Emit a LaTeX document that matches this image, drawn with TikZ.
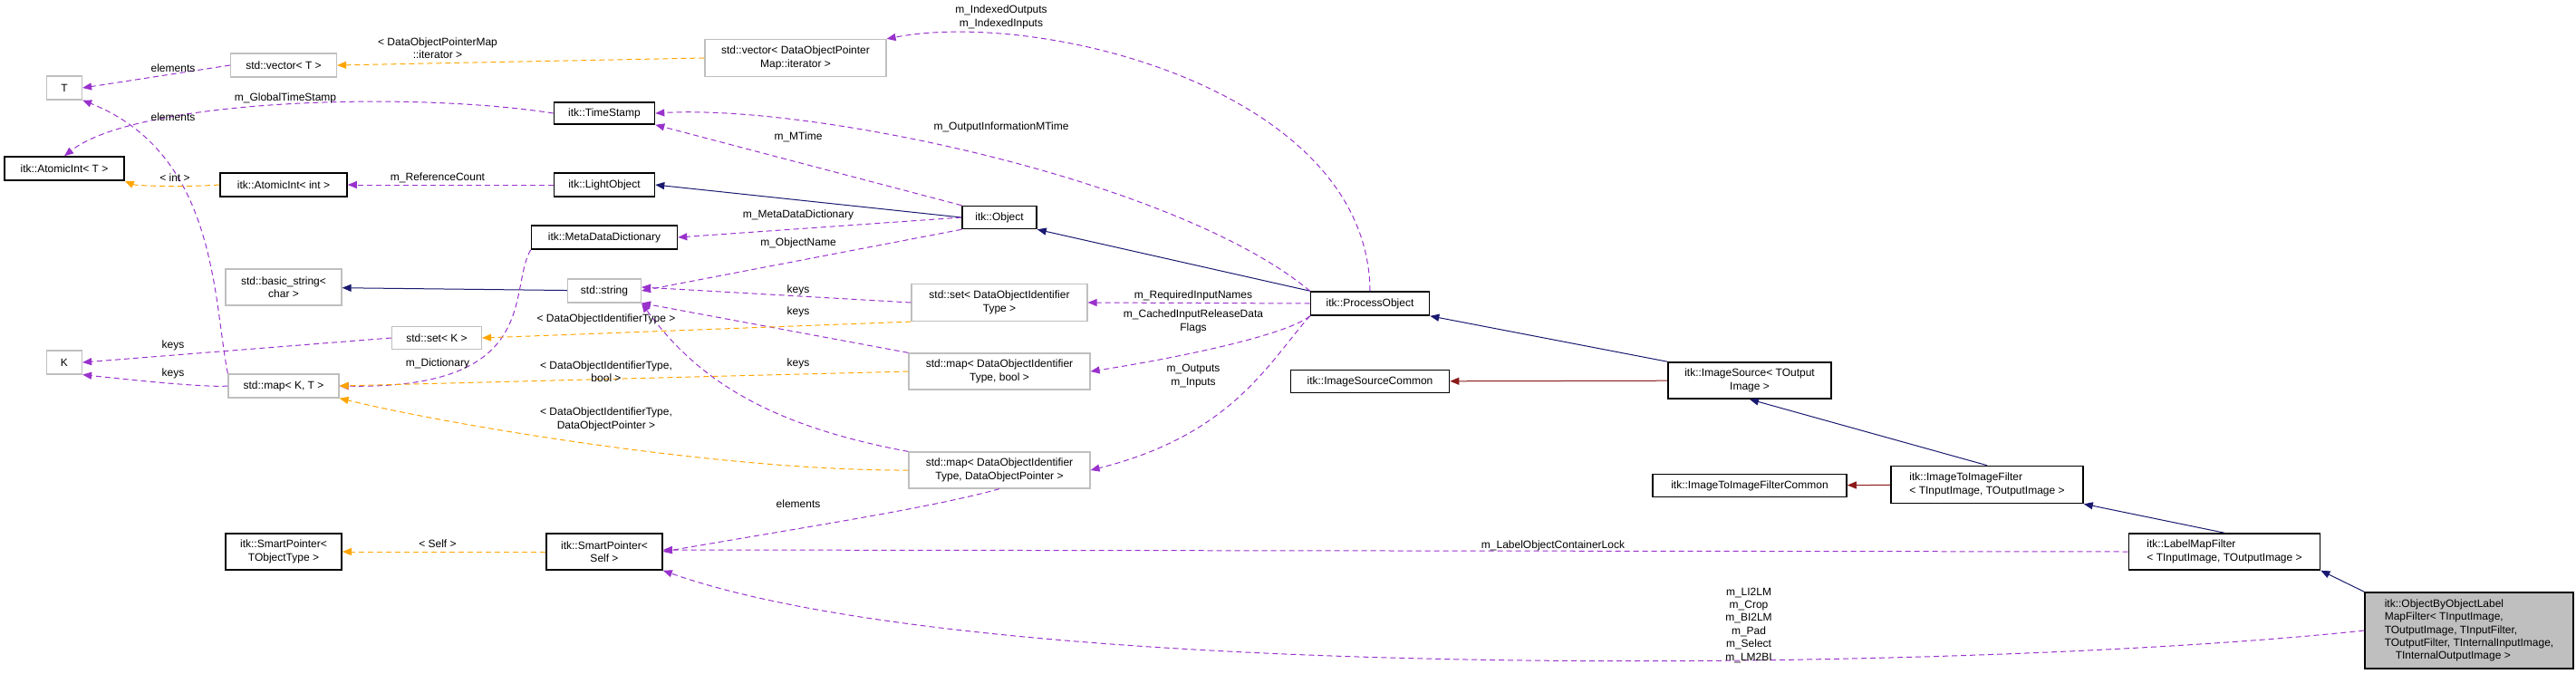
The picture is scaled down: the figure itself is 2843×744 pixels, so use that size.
\documentclass[tikz,border=0pt]{standalone}
\usepackage{fontspec}
\setmainfont{Liberation Sans}
\usetikzlibrary{arrows.meta}

\definecolor{inhcol}{RGB}{25,25,112}
\definecolor{pricol}{RGB}{139,26,26}
\definecolor{usecol}{RGB}{153,50,204}
\definecolor{tplcol}{RGB}{255,165,0}
\definecolor{undoccol}{RGB}{191,191,191}

\tikzset{every picture/.style={line width=0.5pt}}
\tikzset{
  cls/.style={draw=black, line width=0.8pt, fill=white, inner sep=1pt, align=center, font=\fontsize{6}{7.2}\selectfont},
  ucls/.style={cls, draw=undoccol, line width=0.6pt},
  lbl/.style={align=center, inner sep=0.5pt, font=\fontsize{6}{7.2}\selectfont},
  inh/.style={draw=inhcol, -{Triangle[length=5pt,width=4pt]}},
  pri/.style={draw=pricol, -{Triangle[length=5pt,width=4pt]}},
  use/.style={draw=usecol, dash pattern=on 3pt off 2pt, -{Triangle[length=5pt,width=4pt,fill=usecol]}},
  tpl/.style={draw=tplcol, dash pattern=on 3pt off 2pt, -{Triangle[length=5pt,width=4pt,fill=tplcol]}}
}

\begin{document}
\begin{tikzpicture}[x=0.5pt,y=0.5pt,yscale=-1,xscale=1]
  \useasboundingbox (0,0) rectangle (2843,744);

  % classes, left column
  \node [ucls, minimum width=19.5pt, minimum height=13pt] (tT) at (71,97) {T};
  \node [cls, minimum width=66pt, minimum height=13pt] (atomicT) at (71,186) {itk::AtomicInt\textless{} T \textgreater};
  \node [ucls, minimum width=19.5pt, minimum height=13pt] (tK) at (71,400) {K};

  % classes, second column
  \node [ucls, minimum width=58.5pt, minimum height=13pt] (vecT) at (313,72) {std::vector\textless{} T \textgreater};
  \node [cls, minimum width=70pt, minimum height=13pt] (atomicInt) at (313,204) {itk::AtomicInt\textless{} int \textgreater};
  \node [ucls, minimum width=64pt, minimum height=20pt] (basicStr) at (313,317) {std::basic\_string\textless\\char \textgreater};
  \node [ucls, minimum width=61pt, minimum height=13pt] (mapKT) at (313,426) {std::map\textless{} K, T \textgreater};
  \node [cls, minimum width=64pt, minimum height=20pt] (spObj) at (313,609) {itk::SmartPointer\textless\\TObjectType \textgreater};
  \node [ucls, minimum width=49.5pt, minimum height=12.5pt] (setK) at (482,373) {std::set\textless{} K \textgreater};

  % classes, third column
  \node [cls, minimum width=55.5pt, minimum height=12pt] (timeStamp) at (667,125) {itk::TimeStamp};
  \node [cls, minimum width=55.5pt, minimum height=13pt] (lightObj) at (667,204) {itk::LightObject};
  \node [cls, minimum width=80.5pt, minimum height=13pt] (metaDict) at (667,262) {itk::MetaDataDictionary};
  \node [ucls, minimum width=40.5pt, minimum height=13pt] (stdStr) at (667,321) {std::string};
  \node [cls, minimum width=64pt, minimum height=20pt] (spSelf) at (667,609) {itk::SmartPointer\textless\\Self \textgreater};

  % classes, fourth column
  \node [ucls, minimum width=100pt, minimum height=20.5pt] (vecIter) at (878,64) {std::vector\textless{} DataObjectPointer\\Map::iterator \textgreater};
  \node [cls, minimum width=41pt, minimum height=12.5pt] (itkObj) at (1103,240) {itk::Object};
  \node [ucls, minimum width=97pt, minimum height=20.5pt] (setId) at (1103,334) {std::set\textless{} DataObjectIdentifier\\Type \textgreater};
  \node [ucls, minimum width=100pt, minimum height=20pt] (mapBool) at (1103,410) {std::map\textless{} DataObjectIdentifier\\Type, bool \textgreater};
  \node [ucls, minimum width=100pt, minimum height=20pt] (mapPtr) at (1103,519) {std::map\textless{} DataObjectIdentifier\\Type, DataObjectPointer \textgreater};

  % filters
  \node [cls, minimum width=65.5pt, minimum height=13pt] (procObj) at (1512,335) {itk::ProcessObject};
  \node [cls, minimum width=87.5pt, minimum height=12.5pt] (srcCommon) at (1512,421) {itk::ImageSourceCommon};
  \node [cls, minimum width=90pt, minimum height=20pt] (imgSrc) at (1931,420) {itk::ImageSource\textless{} TOutput\\Image \textgreater};
  \node [cls, minimum width=107pt, minimum height=12.5pt] (filtCommon) at (1931,536) {itk::ImageToImageFilterCommon};
  \node [cls, align=left, minimum width=106pt, minimum height=20.5pt] (imgFilt) at (2193,535) {itk::ImageToImageFilter\\\textless{} TInputImage, TOutputImage \textgreater};
  \node [cls, align=left, minimum width=105.5pt, minimum height=20pt] (labelFilt) at (2455,609) {itk::LabelMapFilter\\\textless{} TInputImage, TOutputImage \textgreater};
  \node [cls, fill=undoccol, align=left, minimum width=115pt, minimum height=42pt] (objFilt) at (2725,696) {itk::ObjectByObjectLabel\\MapFilter\textless{} TInputImage,\\ TOutputImage, TInputFilter,\\ TOutputFilter, TInternalInputImage,\\ \quad TInternalOutputImage \textgreater};

  % inheritance
  \draw [inh] (stdStr) -- (basicStr);
  \draw [inh] (itkObj.west) -- (lightObj.east);
  \draw [inh] (procObj.north west) -- (itkObj.south east);
  \draw [inh] (imgSrc.north west) -- (procObj.south east);
  \draw [inh] (imgFilt.north) -- (imgSrc.south);
  \draw [inh] (labelFilt.north) -- (imgFilt.south east);
  \draw [inh] (objFilt.north west) -- (labelFilt.south east);
  \draw [pri] (imgSrc) -- (srcCommon);
  \draw [pri] (imgFilt) -- (filtCommon);

  % usage
  \draw [use] (vecT.west) -- (tT.east);
  \draw [use] (mapKT.north west) .. controls (235,330) and (240,170) .. (tT.south east);
  \draw [use] (timeStamp.west) .. controls (450,100) and (150,110) .. (atomicT.north);
  \draw [use] (lightObj) -- (atomicInt);
  \draw [use] (itkObj.north west) -- (timeStamp.south east);
  \draw [use] (itkObj.west) -- (metaDict.east);
  \draw [use] (itkObj.south west) -- (stdStr.east);
  \draw [use] (setId.west) -- ([yshift=-2pt]stdStr.east);
  \draw [use] (mapBool.north west) -- (stdStr.south east);
  \draw [use] (mapPtr.north west) .. controls (850,470) and (770,420) .. (stdStr.south east);
  \draw [use] (metaDict.south west) .. controls (560,320) and (600,430) .. (mapKT.east);
  \draw [use] (setK.west) -- (tK.east);
  \draw [use] (mapKT.west) .. controls (230,428) and (150,420) .. (tK.south east);
  \draw [use] (procObj.north) .. controls (1510,100) and (1150,10) .. (vecIter.north east);
  \draw [use] (procObj.north west) .. controls (1300,200) and (900,115) .. (timeStamp.east);
  \draw [use] (procObj.west) -- (setId.east);
  \draw [use] (procObj.south west) .. controls (1420,370) and (1300,395) .. (mapBool.east);
  \draw [use] (procObj.south west) .. controls (1400,400) and (1360,480) .. (mapPtr.east);
  \draw [use] (mapPtr.south) .. controls (1030,560) and (900,580) .. (spSelf.east);
  \draw [use] (labelFilt.west) -- ([yshift=-1pt]spSelf.east);
  \draw [use] (objFilt.west) .. controls (2200,740) and (1100,760) .. (spSelf.south east);

  % templates
  \draw [tpl] (atomicInt.west) .. controls (200,207) and (150,205) .. (atomicT.south east);
  \draw [tpl] (vecIter.west) -- (vecT.east);
  \draw [tpl] (setId.south west) -- (setK.east);
  \draw [tpl] (mapBool.west) -- (mapKT.east);
  \draw [tpl] (mapPtr.west) .. controls (800,520) and (500,470) .. (mapKT.south east);
  \draw [tpl] (spSelf.west) -- (spObj.east);

  % edge labels
  \node [lbl] (lElem1) at (191,75) {elements};
  \node [lbl] (lElem2) at (191,129) {elements};
  \node [lbl] (lGlobal) at (315,108) {m\_GlobalTimeStamp};
  \node [lbl] (lIter) at (483,53) {\textless{} DataObjectPointerMap\\::iterator \textgreater};
  \node [lbl] (lInt) at (193,196) {\textless{} int \textgreater};
  \node [lbl] (lRef) at (483,196) {m\_ReferenceCount};
  \node [lbl] (lMTime) at (881,151) {m\_MTime};
  \node [lbl] (lMeta) at (881,237) {m\_MetaDataDictionary};
  \node [lbl] (lName) at (881,268) {m\_ObjectName};
  \node [lbl] (lKeys1) at (881,320) {keys};
  \node [lbl] (lKeys2) at (881,344) {keys};
  \node [lbl] (lKeys3) at (881,401) {keys};
  \node [lbl] (lIdType) at (669,352) {\textless{} DataObjectIdentifierType \textgreater};
  \node [lbl] (lKeys4) at (191,381) {keys};
  \node [lbl] (lKeys5) at (191,412) {keys};
  \node [lbl] (lDict) at (483,401) {m\_Dictionary};
  \node [lbl] (lIdBool) at (669,410) {\textless{} DataObjectIdentifierType,\\bool \textgreater};
  \node [lbl] (lIdPtr) at (669,463) {\textless{} DataObjectIdentifierType,\\DataObjectPointer \textgreater};
  \node [lbl] (lElem3) at (881,556) {elements};
  \node [lbl] (lSelf) at (483,600) {\textless{} Self \textgreater};
  \node [lbl] (lIndexed) at (1105,19) {m\_IndexedOutputs\\m\_IndexedInputs};
  \node [lbl] (lOutInfo) at (1105,140) {m\_OutputInformationMTime};
  \node [lbl] (lReq) at (1317,326) {m\_RequiredInputNames};
  \node [lbl] (lCached) at (1317,355) {m\_CachedInputReleaseData\\Flags};
  \node [lbl] (lOutputs) at (1317,415) {m\_Outputs\\m\_Inputs};
  \node [lbl] (lLock) at (1714,602) {m\_LabelObjectContainerLock};
  \node [lbl] (lMembers) at (1930,690) {m\_LI2LM\\m\_Crop\\m\_BI2LM\\m\_Pad\\m\_Select\\m\_LM2BI};
\end{tikzpicture}
\end{document}
